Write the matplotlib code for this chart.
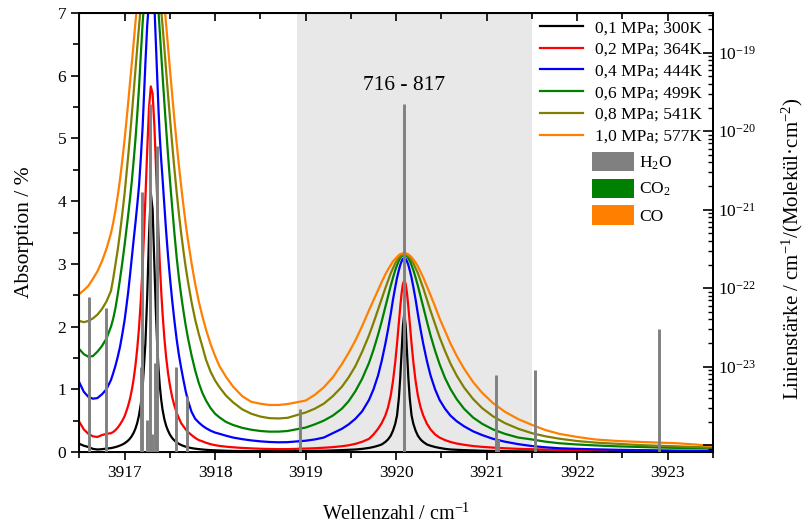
import numpy as np
import matplotlib
matplotlib.use("Agg")
import matplotlib.pyplot as plt
from matplotlib.patches import Patch
from matplotlib.ticker import MultipleLocator, LogLocator, NullFormatter

plt.rcParams['font.family'] = ['Liberation Serif', 'DejaVu Serif']
plt.rcParams['mathtext.fontset'] = 'custom'
plt.rcParams['mathtext.rm'] = 'Liberation Serif'
plt.rcParams['mathtext.it'] = 'Liberation Serif:italic'
plt.rcParams['mathtext.bf'] = 'Liberation Serif:bold'

# Wavenumber grid of the simulated spectra (cm^-1)
wn = [3916.50, 3916.55, 3916.60, 3916.65, 3916.70, 3916.75, 3916.80, 3916.85, 3916.875, 3916.90,
      3916.925, 3916.95, 3916.975, 3917.00, 3917.02, 3917.04, 3917.06, 3917.08, 3917.10, 3917.12,
      3917.14, 3917.16, 3917.18, 3917.20, 3917.23, 3917.25, 3917.27, 3917.29, 3917.31, 3917.33,
      3917.345, 3917.36, 3917.375, 3917.39, 3917.405, 3917.42, 3917.44, 3917.46, 3917.48, 3917.50,
      3917.525, 3917.55, 3917.575, 3917.60, 3917.625, 3917.65, 3917.675, 3917.70, 3917.74, 3917.78,
      3917.82, 3917.86, 3917.90, 3917.95, 3918.00, 3918.05, 3918.12, 3918.20, 3918.30, 3918.40,
      3918.50, 3918.60, 3918.70, 3918.80,
      3919.00, 3919.10, 3919.20, 3919.30, 3919.40, 3919.475,
      3919.55, 3919.625, 3919.70, 3919.75, 3919.80, 3919.84, 3919.88, 3919.91, 3919.94, 3919.965,
      3919.99, 3920.01, 3920.03, 3920.045, 3920.06, 3920.075, 3920.09, 3920.105, 3920.12, 3920.135,
      3920.15, 3920.17, 3920.19, 3920.215, 3920.24, 3920.27, 3920.30, 3920.34, 3920.38, 3920.43,
      3920.48, 3920.54, 3920.60, 3920.67, 3920.75, 3920.85, 3920.95, 3921.07, 3921.20, 3921.35,
      3921.50, 3921.65, 3921.80, 3922.00, 3922.20, 3922.45, 3922.70, 3922.90, 3923.10, 3923.30,
      3923.50]

# Absorption in % for each pressure / temperature
abs_01 = [0.13, 0.10, 0.08, 0.05, 0.04, 0.045, 0.055, 0.062, 0.07, 0.079,
          0.09, 0.103, 0.119, 0.139, 0.16, 0.184, 0.215, 0.255, 0.306, 0.373,
          0.464, 0.591, 0.773, 1.04, 1.73, 2.48, 3.44, 4.13, 3.86, 2.95,
          2.27, 1.73, 1.33, 1.04, 0.83, 0.67, 0.52, 0.415, 0.34, 0.28,
          0.224, 0.184, 0.154, 0.13, 0.112, 0.097, 0.085, 0.075, 0.062, 0.053,
          0.046, 0.04, 0.035, 0.03, 0.027, 0.024, 0.02, 0.017, 0.015, 0.014,
          0.014, 0.014, 0.015, 0.015,
          0.016, 0.018, 0.02, 0.025, 0.03, 0.035,
          0.04, 0.05, 0.065, 0.08, 0.10, 0.12, 0.16, 0.20, 0.26, 0.34,
          0.45, 0.585, 0.86, 1.18, 1.59, 2.01, 2.21, 2.01, 1.59, 1.18,
          0.86, 0.585, 0.45, 0.34, 0.26, 0.20, 0.16, 0.12, 0.10, 0.08,
          0.065, 0.05, 0.04, 0.035, 0.03, 0.025, 0.02, 0.016, 0.013, 0.011,
          0.01, 0.009, 0.008, 0.007, 0.006, 0.005, 0.005, 0.004, 0.004, 0.004,
          0.003]
abs_02 = [0.48, 0.36, 0.29, 0.25, 0.24, 0.27, 0.29, 0.30, 0.32, 0.35,
          0.39, 0.44, 0.50, 0.57, 0.65, 0.74, 0.85, 0.99, 1.16, 1.38,
          1.65, 1.99, 2.43, 2.98, 4.04, 4.81, 5.49, 5.83, 5.71, 5.18,
          4.62, 4.04, 3.48, 2.98, 2.56, 2.20, 1.81, 1.50, 1.26, 1.07,
          0.88, 0.74, 0.63, 0.54, 0.46, 0.41, 0.36, 0.32, 0.27, 0.225,
          0.19, 0.17, 0.147, 0.125, 0.109, 0.097, 0.085, 0.075, 0.065, 0.058,
          0.052, 0.048, 0.046, 0.046,
          0.055, 0.06, 0.068, 0.078, 0.092, 0.107,
          0.13, 0.163, 0.21, 0.28, 0.37, 0.46, 0.58, 0.71, 0.90, 1.13,
          1.435, 1.73, 2.065, 2.31, 2.53, 2.68, 2.74, 2.68, 2.53, 2.31,
          2.065, 1.73, 1.435, 1.13, 0.90, 0.71, 0.58, 0.45, 0.36, 0.28,
          0.23, 0.19, 0.16, 0.135, 0.115, 0.095, 0.082, 0.07, 0.06, 0.05,
          0.045, 0.04, 0.035, 0.03, 0.027, 0.023, 0.02, 0.018, 0.016, 0.014,
          0.012]
abs_04 = [1.11, 0.96, 0.88, 0.85, 0.86, 0.92, 1.00, 1.15, 1.26, 1.38,
          1.52, 1.68, 1.88, 2.10, 2.32, 2.55, 2.82, 3.10, 3.38, 3.65,
          3.94, 4.25, 4.70, 5.20, 6.20, 6.80, 7.20, 7.40, 7.40, 7.10,
          6.55, 6.00, 5.45, 5.00, 4.65, 4.35, 3.92, 3.50, 3.13, 2.80,
          2.43, 2.10, 1.80, 1.55, 1.34, 1.15, 0.97, 0.82, 0.64, 0.53,
          0.47, 0.42, 0.38, 0.34, 0.31, 0.29, 0.26, 0.23, 0.205, 0.185,
          0.17, 0.16, 0.155, 0.157,
          0.18, 0.20, 0.23, 0.30, 0.37, 0.44,
          0.53, 0.65, 0.83, 1.00, 1.22, 1.45, 1.72, 1.95, 2.20, 2.43,
          2.63, 2.78, 2.90, 2.98, 3.04, 3.08, 3.09, 3.08, 3.04, 2.98,
          2.90, 2.78, 2.63, 2.43, 2.20, 1.95, 1.72, 1.45, 1.22, 1.00,
          0.83, 0.69, 0.58, 0.49, 0.41, 0.33, 0.27, 0.21, 0.165, 0.125,
          0.095, 0.075, 0.06, 0.05, 0.043, 0.035, 0.03, 0.026, 0.022, 0.02,
          0.018]
abs_06 = [1.64, 1.56, 1.52, 1.53, 1.60, 1.69, 1.81, 2.00, 2.13, 2.30,
          2.52, 2.76, 3.02, 3.30, 3.54, 3.78, 4.04, 4.32, 4.64, 4.98,
          5.38, 5.82, 6.35, 6.85, 7.45, 7.75, 7.97, 8.08, 8.05, 7.88,
          7.65, 7.35, 7.02, 6.68, 6.34, 6.00, 5.56, 5.14, 4.74, 4.36,
          3.92, 3.50, 3.11, 2.78, 2.50, 2.25, 2.02, 1.82, 1.54, 1.30,
          1.10, 0.94, 0.82, 0.70, 0.61, 0.55, 0.48, 0.43, 0.385, 0.355,
          0.335, 0.325, 0.325, 0.335,
          0.39, 0.44, 0.50, 0.58, 0.69, 0.81,
          0.97, 1.17, 1.42, 1.63, 1.87, 2.08, 2.31, 2.48, 2.65, 2.78,
          2.90, 2.98, 3.05, 3.09, 3.12, 3.135, 3.14, 3.135, 3.12, 3.09,
          3.05, 2.98, 2.90, 2.78, 2.65, 2.48, 2.31, 2.08, 1.86, 1.615,
          1.40, 1.18, 1.005, 0.84, 0.69, 0.55, 0.45, 0.36, 0.29, 0.23,
          0.20, 0.165, 0.14, 0.12, 0.105, 0.09, 0.08, 0.072, 0.066, 0.06,
          0.055]
abs_08 = [2.09, 2.07, 2.09, 2.13, 2.19, 2.28, 2.40, 2.57, 2.77, 3.00,
          3.23, 3.50, 3.80, 4.12, 4.42, 4.72, 5.04, 5.38, 5.73, 6.09,
          6.45, 6.79, 7.12, 7.43, 7.81, 8.00, 8.11, 8.15, 8.11, 8.00,
          7.87, 7.70, 7.51, 7.28, 7.04, 6.79, 6.43, 6.06, 5.70, 5.35,
          4.92, 4.52, 4.15, 3.80, 3.49, 3.21, 2.95, 2.72, 2.39, 2.11,
          1.88, 1.68, 1.47, 1.28, 1.14, 1.03, 0.90, 0.79, 0.68, 0.61,
          0.565, 0.54, 0.535, 0.545,
          0.63, 0.69, 0.77, 0.89, 1.04, 1.19,
          1.37, 1.60, 1.86, 2.06, 2.27, 2.44, 2.61, 2.73, 2.85, 2.93,
          3.01, 3.06, 3.10, 3.12, 3.14, 3.148, 3.15, 3.148, 3.14, 3.12,
          3.10, 3.06, 3.01, 2.93, 2.85, 2.73, 2.61, 2.43, 2.25, 2.04,
          1.83, 1.61, 1.41, 1.216, 1.03, 0.845, 0.70, 0.569, 0.462, 0.37,
          0.30, 0.25, 0.213, 0.175, 0.15, 0.13, 0.11, 0.10, 0.09, 0.08,
          0.07]
abs_10 = [2.52, 2.58, 2.65, 2.76, 2.88, 3.04, 3.24, 3.49, 3.66, 3.86,
          4.09, 4.35, 4.65, 4.98, 5.27, 5.57, 5.89, 6.20, 6.52, 6.85,
          7.16, 7.45, 7.74, 8.00, 8.32, 8.48, 8.57, 8.60, 8.57, 8.48,
          8.37, 8.23, 8.07, 7.88, 7.67, 7.45, 7.13, 6.80, 6.46, 6.12,
          5.71, 5.31, 4.93, 4.57, 4.24, 3.93, 3.64, 3.38, 3.01, 2.68,
          2.40, 2.16, 1.95, 1.72, 1.53, 1.365, 1.20, 1.04, 0.89, 0.80,
          0.77, 0.75, 0.75, 0.765,
          0.82, 0.91, 1.03, 1.19, 1.40, 1.58,
          1.78, 2.01, 2.26, 2.42, 2.58, 2.71, 2.83, 2.91, 2.98, 3.04,
          3.08, 3.11, 3.14, 3.155, 3.163, 3.168, 3.17, 3.168, 3.16, 3.15,
          3.134, 3.107, 3.07, 3.02, 2.96, 2.87, 2.78, 2.64, 2.50, 2.32,
          2.13, 1.93, 1.73, 1.53, 1.33, 1.115, 0.944, 0.78, 0.643, 0.523,
          0.432, 0.35, 0.29, 0.24, 0.20, 0.175, 0.16, 0.15, 0.14, 0.12,
          0.095]

curves = [abs_01, abs_02, abs_04, abs_06, abs_08, abs_10]
curve_labels = ['0,1 MPa; 300K', '0,2 MPa; 364K', '0,4 MPa; 444K',
                '0,6 MPa; 499K', '0,8 MPa; 541K', '1,0 MPa; 577K']
curve_colors = ['#000000', '#ff0000', '#0000ff', '#008000', '#808000', '#ff8000']

# H2O line list: position (cm^-1) and line strength (cm^-1/(molecule cm^-2))
h2o_pos = [3916.61, 3916.79, 3917.185, 3917.197, 3917.246, 3917.284, 3917.306,
           3917.332, 3917.362, 3917.572, 3917.694, 3918.937, 3920.092,
           3921.107, 3921.13, 3921.531, 3922.905]
h2o_s = [7.8e-23, 5.6e-23, 1.0e-23, 1.7e-21, 2.1e-24, 2.2e-20, 1.4e-24,
         1.1e-23, 6.5e-21, 1.0e-23, 4.3e-24, 2.9e-24, 2.2e-20,
         7.8e-24, 1.2e-24, 9.1e-24, 3.0e-23]

s_min, s_max = 8.2e-25, 3.2e-19

fig = plt.figure(figsize=(8.06, 5.27), dpi=100)
ax = fig.add_axes([0.0984, 0.1423, 0.7862, 0.833])

# evaluated window
ax.axvspan(3918.9, 3921.5, color='#e8e8e8', lw=0, zorder=0)

lines = []
for y, lab, col in zip(curves, curve_labels, curve_colors):
    ln, = ax.plot(wn, y, color=col, lw=1.6, label=lab, zorder=2)
    lines.append(ln)

ax.set_xlim(3916.5, 3923.5)
ax.set_ylim(0, 7)
ax.xaxis.set_major_locator(MultipleLocator(1))
ax.xaxis.set_minor_locator(MultipleLocator(0.5))
ax.yaxis.set_major_locator(MultipleLocator(1))
ax.yaxis.set_minor_locator(MultipleLocator(0.5))
ax.tick_params(axis='both', which='major', direction='out', length=6, width=1.2,
               labelsize=12.5)
ax.tick_params(axis='both', which='minor', direction='out', length=4, width=1.2)
for sp in ax.spines.values():
    sp.set_linewidth(1.4)
ax.set_xlabel('Wellenzahl / cm$^{-1}$', fontsize=14.5, labelpad=16)
ax.set_ylabel('Absorption / %', fontsize=15.5, labelpad=17)

# ticks on the top edge point inwards
top = ax.secondary_xaxis('top')
top.xaxis.set_major_locator(MultipleLocator(1))
top.xaxis.set_minor_locator(MultipleLocator(0.5))
top.tick_params(axis='x', which='major', direction='in', length=6, width=1.2, labeltop=False)
top.tick_params(axis='x', which='minor', direction='in', length=4, width=1.2)
top.spines['top'].set_linewidth(1.4)

ax.text(3920.09, 5.85, '716 - 817', ha='center', va='center', fontsize=15.5)

# line strengths on logarithmic right axis
ax2 = ax.twinx()
ax2.set_yscale('log')
ax2.set_ylim(s_min, s_max)
ax2.vlines(h2o_pos, s_min, h2o_s, color='#808080', lw=2.1, zorder=3)
ax2.set_yticks([1e-24, 1e-23, 1e-22, 1e-21, 1e-20, 1e-19],
               ['', '$10^{-23}$', '$10^{-22}$', '$10^{-21}$', '$10^{-20}$', '$10^{-19}$'])
ax2.yaxis.set_minor_locator(LogLocator(base=10, subs=np.arange(2, 10)))
ax2.yaxis.set_minor_formatter(NullFormatter())
ax2.tick_params(axis='y', which='major', direction='in', length=7, width=1.2, labelsize=12.5)
ax2.tick_params(axis='y', which='minor', direction='in', length=3.5, width=1.0)
ax2.spines['right'].set_linewidth(1.4)
ax2.set_ylabel('Linienstärke / cm$^{-1}$/(Molekül·cm$^{-2}$)', fontsize=15, labelpad=17)
ax2.yaxis.label.set_y(0.462)

leg1 = ax2.legend(handles=lines, loc='upper left', bbox_to_anchor=(540 / 806, 1 - 20 / 527),
                  bbox_transform=fig.transFigure, frameon=False, fontsize=12.5,
                  handlelength=2.5, handletextpad=0.65, labelspacing=0.32,
                  borderpad=0, borderaxespad=0)
ax2.add_artist(leg1)

patches = [Patch(facecolor='#808080', label='H$_2$O'),
           Patch(facecolor='#008000', label='CO$_2$'),
           Patch(facecolor='#ff8000', label='CO')]
ax2.legend(handles=patches, loc='upper left', bbox_to_anchor=(592 / 806, 1 - 152 / 527),
           bbox_transform=fig.transFigure, frameon=False, fontsize=12.5,
           handlelength=2.4, handleheight=1.35, handletextpad=0.3, labelspacing=0.38,
           borderpad=0, borderaxespad=0)

fig.savefig('out.png', dpi=100)
